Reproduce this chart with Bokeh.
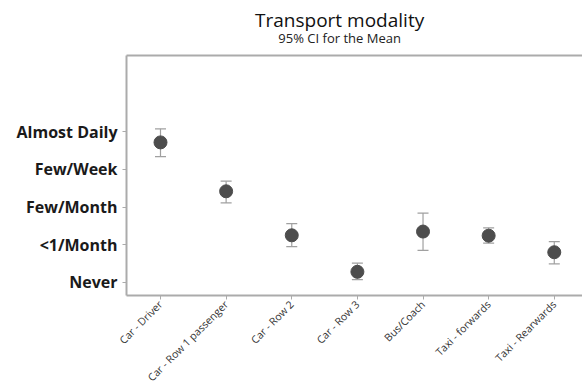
from math import pi
from bokeh.plotting import figure
from bokeh.layouts import column
from bokeh.core.properties import value
from bokeh.models import (LinearAxis, FixedTicker, Whisker, TeeHead,
                          ColumnDataSource, Range1d)
from bokeh.embed import file_html
from bokeh.resources import INLINE

categories = ["Car - Driver", "Car - Row 1 passenger", "Car - Row 2", "Car - Row 3",
              "Bus/Coach", "Taxi - forwards", "Taxi - Rearwards"]
means = [4.72, 3.42, 2.25, 1.28, 2.35, 2.24, 1.80]
upper = [5.08, 3.69, 2.56, 1.51, 2.84, 2.45, 2.08]
lower = [4.34, 3.11, 1.95, 1.07, 1.85, 2.04, 1.49]
levels = ["Never", "<1/Month", "Few/Month", "Few/Week", "Almost Daily"]
level_values = [1, 2, 3, 4, 5]
title_text = "Transport modality"
subtitle_text = "95% CI for the Mean"

W = 582
HEAD_H = 50

# ---- header with title and subtitle ----
head = figure(width=W, height=HEAD_H, output_backend="svg", toolbar_location=None,
              x_range=Range1d(0, W), y_range=Range1d(HEAD_H, 0),
              x_axis_type=None, y_axis_type=None, min_border=0)
head.outline_line_color = None
head.grid.grid_line_color = None
head.text(x=[272], y=[19], text=[title_text], text_align="center",
          text_baseline="middle", text_font=value("Open Sans"),
          text_font_size="19px", text_color="#111111")
head.text(x=[272], y=[37], text=[subtitle_text], text_align="center",
          text_baseline="middle", text_font=value("Open Sans"),
          text_font_size="13px", text_color="#222222")

# ---- main plot ----
xs = list(range(1, len(categories) + 1))
src = ColumnDataSource(dict(x=xs, mean=means, upper=upper, lower=lower))

p = figure(width=W, height=392 - HEAD_H, output_backend="svg", toolbar_location=None,
           x_range=Range1d(0.482, 7.43), y_range=Range1d(0.65, 7.03),
           min_border_left=126, min_border_right=0, min_border_top=5,
           min_border_bottom=0)
p.outline_line_color = None
p.grid.grid_line_color = None

line_col = "#ababab"
for ax in (p.xaxis[0], p.yaxis[0]):
    ax.axis_line_color = line_col
    ax.axis_line_width = 2
    ax.major_tick_line_color = line_col
    ax.major_tick_out = 4
    ax.major_tick_in = 0
    ax.minor_tick_line_color = None

p.xaxis.ticker = FixedTicker(ticks=xs)
p.xaxis.major_label_overrides = {x: c for x, c in zip(xs, categories)}
p.xaxis.major_label_orientation = pi / 4
p.xaxis.major_label_text_font = "Open Sans"
p.xaxis.major_label_text_font_size = "10.5px"
p.xaxis.major_label_text_color = "#333333"
p.xaxis.major_label_standoff = 3

p.yaxis.ticker = FixedTicker(ticks=level_values)
p.yaxis.major_label_overrides = {v: l for v, l in zip(level_values, levels)}
p.yaxis.major_label_text_font = "Open Sans"
p.yaxis.major_label_text_font_style = "bold"
p.yaxis.major_label_text_font_size = "16px"
p.yaxis.major_label_text_color = "#1a1a1a"
p.yaxis.major_label_standoff = 5

top_axis = LinearAxis(ticker=FixedTicker(ticks=[]), axis_line_color=line_col,
                      axis_line_width=2, major_tick_line_color=None,
                      minor_tick_line_color=None, major_label_text_font_size="0px")
p.add_layout(top_axis, "above")

wh = Whisker(source=src, base="x", upper="upper", lower="lower",
             dimension="height", line_color="#a0a0a0", line_width=1.2,
             upper_head=TeeHead(size=11, line_color="#a0a0a0", line_width=1.2),
             lower_head=TeeHead(size=11, line_color="#a0a0a0", line_width=1.2))
p.add_layout(wh)
p.scatter("x", "mean", source=src, size=13, color="#4d4d4d")

layout = column(head, p, spacing=0)
open("out.html", "w").write(file_html(layout, INLINE))
